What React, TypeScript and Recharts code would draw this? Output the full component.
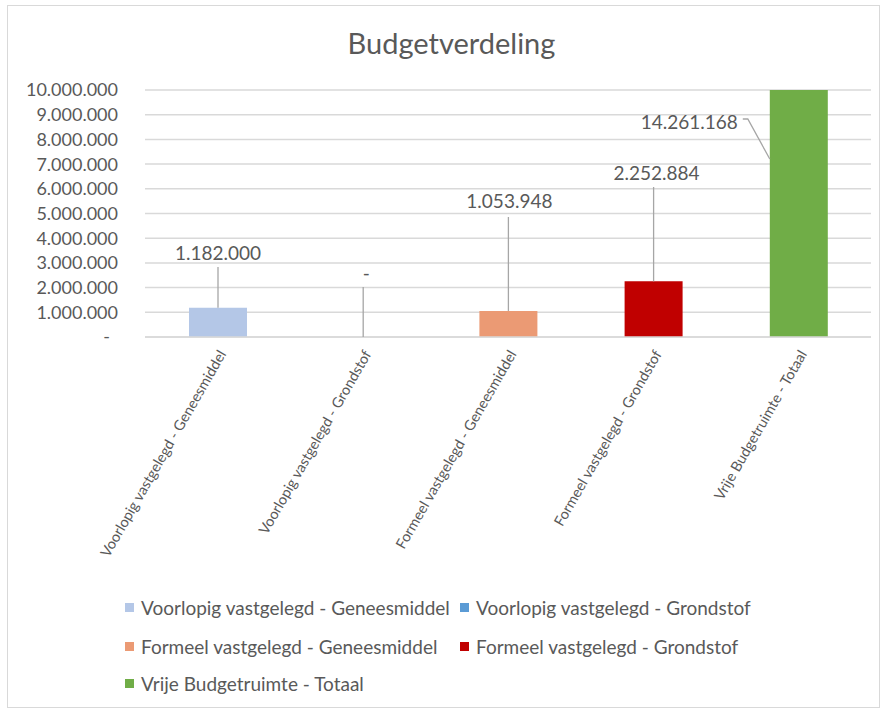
import { BarChart, Bar, XAxis, YAxis, CartesianGrid, Cell, LabelList } from 'recharts'

// Chart content
const TITLE = 'Budgetverdeling'
const CATEGORIES = [
  'Voorlopig vastgelegd - Geneesmiddel',
  'Voorlopig vastgelegd - Grondstof',
  'Formeel vastgelegd - Geneesmiddel',
  'Formeel vastgelegd - Grondstof',
  'Vrije Budgetruimte - Totaal',
]
const VALUES = [1182000, 0, 1053948, 2252884, 14261168]
const COLORS = ['#b4c7e7', '#5b9bd5', '#eb9a74', '#c00000', '#70ad47']
const Y_TICKS = [0, 1000000, 2000000, 3000000, 4000000, 5000000, 6000000, 7000000, 8000000, 9000000, 10000000]

// Manual Excel label placement: pixel offsets from bar centre / baseline
const LABEL_LAYOUT = [
  { dx: 0, textUp: 84, lineUp: 70 },
  { dx: 3, textUp: 64, lineUp: 50 },
  { dx: 1, textUp: 136, lineUp: 120 },
  { dx: 3, textUp: 164, lineUp: 150 },
  { dx: -61, textUp: 215, lineUp: 218, side: true, hitUp: 178 },
]

const PLOT_LEFT = 145
const PLOT_RIGHT = 871
const BAND = (PLOT_RIGHT - PLOT_LEFT) / CATEGORIES.length

const FONT = 'Lato, "Open Sans", sans-serif'
const TEXT = '#595959'
const GRID = '#d9d9d9'

const fmt = (v: number) => (v === 0 ? '-' : String(Math.round(v)).replace(/\B(?=(\d{3})+(?!\d))/g, '.'))

const data = CATEGORIES.map((name, i) => ({ name, value: VALUES[i] }))

const YTick = ({ x, y, payload }: any) => (
  <text x={payload.value === 0 ? x - 8 : x} y={y} dy="0.36em" textAnchor="end" fill={TEXT} fontSize={18} fontFamily={FONT}>
    {fmt(payload.value)}
  </text>
)

const XTick = ({ x, y, payload }: any) => (
  <g transform={`translate(${x + 9},${y + 15})`}>
    <text textAnchor="end" transform="rotate(-60)" fill={TEXT} fontSize={14.5} fontFamily={FONT}>
      {payload.value}
    </text>
  </g>
)

const DataLabel = (props: any) => {
  const vb = props.viewBox ?? props
  const cx = vb.x + vb.width / 2
  // the zero bar can be skipped by LabelList, so find the category from the position
  const idx = Math.floor((cx - PLOT_LEFT) / BAND)
  const lay = LABEL_LAYOUT[idx]
  if (!lay) return null
  const base = vb.y + vb.height
  const top = Math.min(vb.y, base)
  const tx = cx + lay.dx
  const ty = base - lay.textUp
  return (
    <g>
      {lay.side ? (
        <polyline
          points={`${cx - 56},${base - lay.lineUp} ${cx - 51},${base - lay.lineUp} ${vb.x},${base - lay.hitUp!}`}
          fill="none" stroke="#a6a6a6" strokeWidth={1.3}
        />
      ) : (
        <line x1={cx} x2={cx} y1={base - lay.lineUp} y2={top} stroke="#a6a6a6" strokeWidth={1.3} />
      )}
      <text x={tx} y={ty} dy="0.36em" textAnchor={lay.side ? 'end' : 'middle'} fill={TEXT} fontSize={19} fontFamily={FONT}>
        {fmt(VALUES[idx])}
      </text>
    </g>
  )
}

export default function App() {
  return (
    <div style={{ position: 'absolute', left: 0, top: 0, width: 883, height: 709, background: '#fff', overflow: 'hidden' }}>
      <div style={{ position: 'absolute', left: 7, top: 5, width: 873, height: 703, border: `1px solid ${GRID}`, boxSizing: 'border-box' }} />
      <div style={{ position: 'absolute', left: 0, top: 25, width: 903, textAlign: 'center', fontFamily: FONT, fontSize: 29, color: TEXT }}>
        {TITLE}
      </div>
      <div style={{ position: 'absolute', left: 0, top: 0 }}>
        <BarChart width={883} height={577} data={data} margin={{ top: 90, right: 883 - PLOT_RIGHT, left: 0, bottom: 0 }}>
          <CartesianGrid vertical={false} stroke={GRID} strokeWidth={1.5} />
          <XAxis dataKey="name" interval={0} height={240} tickSize={0} tickLine={false} axisLine={{ stroke: GRID, strokeWidth: 1.5 }} tick={<XTick />} />
          <YAxis
            domain={[0, 10000000]}
            ticks={Y_TICKS}
            allowDataOverflow
            width={PLOT_LEFT}
            tickSize={0}
            tickMargin={27}
            axisLine={false}
            tickLine={false}
            tick={<YTick />}
          />
          <Bar dataKey="value" barSize={58} minPointSize={0.01} isAnimationActive={false}>
            {data.map((_, i) => (
              <Cell key={i} fill={COLORS[i]} />
            ))}
            <LabelList dataKey="value" content={<DataLabel />} />
          </Bar>
        </BarChart>
      </div>
      {CATEGORIES.map((name, i) => (
        <div
          key={name}
          style={{
            position: 'absolute',
            left: i % 2 === 0 ? 125 : 460,
            top: [607, 646, 683][Math.floor(i / 2)] - 12,
            height: 24,
            display: 'flex',
            alignItems: 'center',
            fontFamily: FONT,
            fontSize: 19,
            color: TEXT,
            whiteSpace: 'nowrap',
          }}
        >
          <span style={{ display: 'inline-block', width: 9, height: 9, background: COLORS[i], marginRight: 7 }} />
          {name}
        </div>
      ))}
    </div>
  )
}
